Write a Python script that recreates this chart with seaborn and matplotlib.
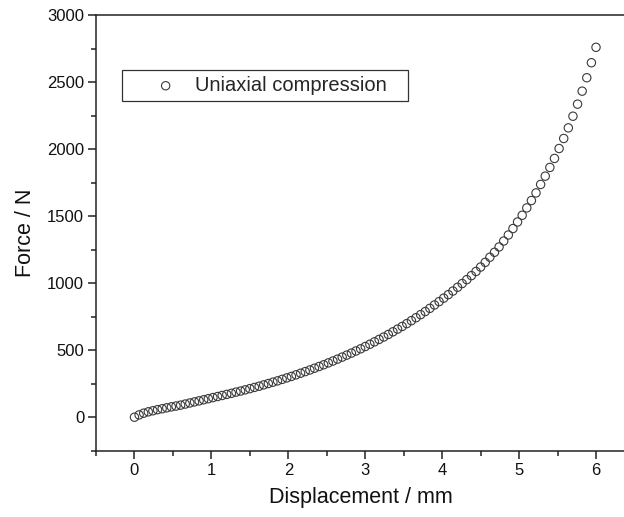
import matplotlib
matplotlib.use("Agg")
import matplotlib.pyplot as plt
import seaborn as sns
import pandas as pd
from matplotlib.ticker import MultipleLocator
from matplotlib.legend_handler import HandlerPathCollection
from matplotlib.collections import PathCollection

displacement = [
    0.00, 0.06, 0.12, 0.18, 0.24, 0.30, 0.36, 0.42, 0.48, 0.54,
    0.60, 0.66, 0.72, 0.78, 0.84, 0.90, 0.96, 1.02, 1.08, 1.14,
    1.20, 1.26, 1.32, 1.38, 1.44, 1.50, 1.56, 1.62, 1.68, 1.74,
    1.80, 1.86, 1.92, 1.98, 2.04, 2.10, 2.16, 2.22, 2.28, 2.34,
    2.40, 2.46, 2.52, 2.58, 2.64, 2.70, 2.76, 2.82, 2.88, 2.94,
    3.00, 3.06, 3.12, 3.18, 3.24, 3.30, 3.36, 3.42, 3.48, 3.54,
    3.60, 3.66, 3.72, 3.78, 3.84, 3.90, 3.96, 4.02, 4.08, 4.14,
    4.20, 4.26, 4.32, 4.38, 4.44, 4.50, 4.56, 4.62, 4.68, 4.74,
    4.80, 4.86, 4.92, 4.98, 5.04, 5.10, 5.16, 5.22, 5.28, 5.34,
    5.40, 5.46, 5.52, 5.58, 5.64, 5.70, 5.76, 5.82, 5.88, 5.94,
    6.00,
]
force = [
    0, 17, 30, 40, 48, 56, 63, 70, 77, 83,
    90, 98, 106, 114, 122, 130, 138, 146, 154, 162,
    170, 178, 187, 195, 204, 213, 222, 231, 241, 251,
    261, 271, 282, 293, 304, 316, 328, 340, 352, 365,
    378, 391, 405, 419, 433, 448, 463, 478, 494, 510,
    527, 544, 562, 580, 598, 617, 637, 657, 677, 698,
    720, 742, 765, 788, 812, 837, 862, 888, 914, 941,
    969, 997, 1026, 1056, 1087, 1120, 1155, 1193, 1230, 1270,
    1314, 1359, 1407, 1456, 1506, 1561, 1616, 1673, 1736, 1798,
    1863, 1930, 2004, 2079, 2158, 2245, 2335, 2432, 2532, 2644,
    2759,
]
series_label = "Uniaxial compression"
x_ticks = [0, 1, 2, 3, 4, 5, 6]
y_ticks = [0, 500, 1000, 1500, 2000, 2500, 3000]

df = pd.DataFrame({"Displacement": displacement, "Force": force})

sns.set_theme(style="ticks")
plt.rcParams["font.family"] = ["Liberation Sans", "DejaVu Sans"]


class OffsetMarkerHandler(HandlerPathCollection):
    def get_xdata(self, legend, xdescent, ydescent, width, height, fontsize):
        pos = [-xdescent + 0.66 * width]
        return pos, pos


fig = plt.figure(figsize=(6.24, 5.17), dpi=100)
ax = fig.add_axes([96 / 624, (517 - 450.7) / 517, (624 - 96) / 624 + 0.002, (450.7 - 15) / 517])

sns.scatterplot(data=df, x="Displacement", y="Force", ax=ax,
                marker="o", s=36, facecolor="none", edgecolor="#3a3a3a",
                linewidth=0.8, label=series_label, zorder=3)

ax.set_xlim(-0.5, 6.38)
ax.set_ylim(-250, 3000)
ax.set_xticks(x_ticks)
ax.set_yticks(y_ticks)
ax.xaxis.set_minor_locator(MultipleLocator(0.5))
ax.yaxis.set_minor_locator(MultipleLocator(250))

ax.tick_params(which="major", direction="out", length=5.5, width=1.1,
               labelsize=12, color="#222222", labelcolor="#111111", pad=3)
ax.tick_params(which="minor", direction="out", length=3.5, width=1.1, color="#222222")
ax.tick_params(axis="x", which="both", top=False)
ax.tick_params(axis="y", which="both", right=False)

for side in ["left", "bottom", "top", "right"]:
    ax.spines[side].set_linewidth(1.1)
    ax.spines[side].set_color("#222222")

ax.set_xlabel("Displacement / mm", fontsize=15.5, color="#111111", labelpad=7)
ax.set_ylabel("Force / N", fontsize=15.5, color="#111111", labelpad=8)

leg = ax.legend(loc="upper left",
                bbox_to_anchor=(122 / 624, (517 - 100) / 517, 286 / 624, 30 / 517),
                bbox_transform=fig.transFigure, mode="expand",
                fontsize=14.5, frameon=True,
                fancybox=False, borderaxespad=0, borderpad=0.3,
                handletextpad=0.5, handlelength=2.83,
                handler_map={PathCollection: OffsetMarkerHandler()})
leg.get_frame().set_edgecolor("#333333")
leg.get_frame().set_linewidth(0.9)
leg.get_frame().set_alpha(1)

fig.savefig("out.png", dpi=100)
